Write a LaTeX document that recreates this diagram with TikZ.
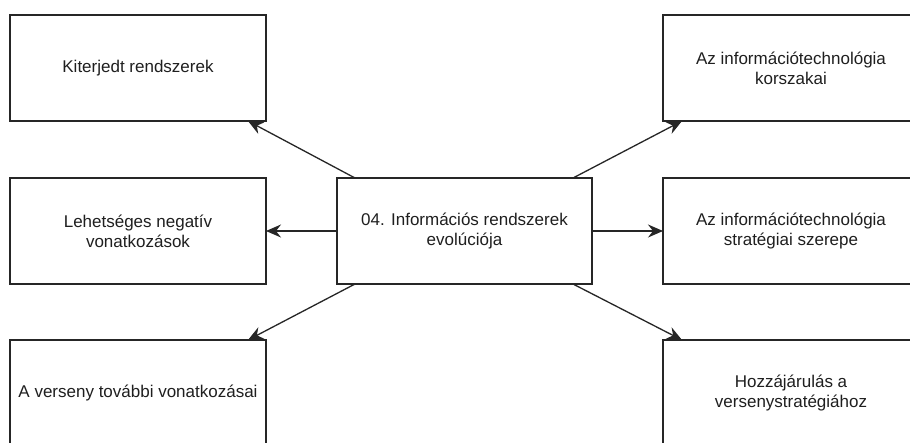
\documentclass[tikz,border=0pt]{standalone}
\usepackage{fontspec}
\setmainfont{Liberation Sans}
\usetikzlibrary{calc,arrows.meta}
\begin{document}
\begin{tikzpicture}[x=1pt,y=-1pt,
  topic/.style={draw=black!85, line width=1.3pt, fill=white, rectangle,
    minimum width=256pt, minimum height=106pt, inner sep=0pt, outer sep=0pt,
    align=center, text=black!88,
    font=\fontsize{17}{20}\selectfont},
  link/.style={draw=black!85, line width=1.3pt,
    -{Stealth[length=15pt,width=13pt,inset=5pt]}}]
  \useasboundingbox[fill=white] (0,0) rectangle (910,442);

  % central topic
  \node[topic, minimum width=255pt] (C) at (464.5,231) {04. Információs rendszerek\\evolúciója};

  % left column
  \node[topic] (TL) at (138,68)  {Kiterjedt rendszerek};
  \node[topic] (ML) at (138,231) {Lehetséges negatív\\vonatkozások};
  \node[topic] (BL) at (138,393) {A verseny további vonatkozásai};

  % right column
  \node[topic] (TR) at (791,68)  {Az információtechnológia\\korszakai};
  \node[topic] (MR) at (791,231) {Az információtechnológia\\stratégiai szerepe};
  \node[topic] (BR) at (791,393) {Hozzájárulás a\\versenystratégiához};

  % connectors from the central topic
  \draw[link] ($(C.north west)+(18,0)$) -- ($(TL.south east)+(-18,0)$);
  \draw[link] ($(C.north east)+(-19,0)$) -- ($(TR.south west)+(19,0)$);
  \draw[link] (C.west) -- (ML.east);
  \draw[link] (C.east) -- (MR.west);
  \draw[link] ($(C.south west)+(18,0)$) -- ($(BL.north east)+(-18,0)$);
  \draw[link] ($(C.south east)+(-19,0)$) -- ($(BR.north west)+(19,0)$);
\end{tikzpicture}
\end{document}
